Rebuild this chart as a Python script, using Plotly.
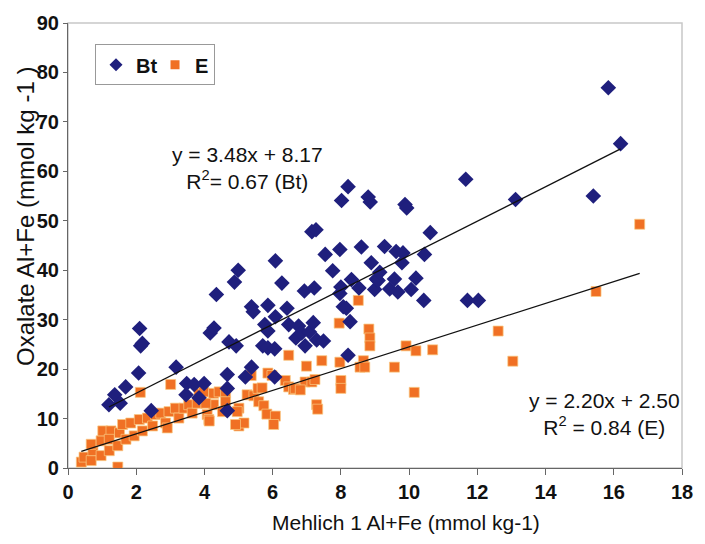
import plotly.graph_objects as go

# ---------------- data ----------------
bt_x = [1.20, 1.37, 1.53, 1.69, 2.07, 2.10, 2.13, 2.18, 2.44, 3.17, 3.46, 3.48, 3.70, 3.84, 3.99,
        4.17, 4.28, 4.35, 4.67, 4.67, 4.67, 4.72, 4.88, 4.93, 4.99, 5.20, 5.38, 5.38, 5.43, 5.71,
        5.77, 5.86, 5.86, 5.86, 6.06, 6.06, 6.08, 6.08, 6.27, 6.42, 6.47, 6.76, 6.68, 6.85, 6.93,
        6.95, 7.08, 7.15, 7.19, 7.22, 7.27, 7.29, 7.49, 7.54, 7.76, 7.97, 7.97, 8.00, 8.02, 8.07,
        8.16, 8.21, 8.21, 8.27, 8.31, 8.53, 8.60, 8.80, 8.86, 8.89, 8.99, 9.04, 9.09, 9.14, 9.28,
        9.43, 9.57, 9.62, 9.67, 9.82, 9.79, 9.88, 9.93, 10.06, 10.20, 10.43, 10.45, 10.62, 11.66,
        11.71, 12.03, 13.12, 15.40, 15.84, 16.20]
bt_y = [12.8, 14.8, 13.1, 16.4, 19.2, 28.2, 24.7, 25.2, 11.6, 20.4, 14.8, 17.1, 16.9, 14.2, 17.1,
        27.3, 28.3, 35.1, 18.9, 16.1, 11.6, 25.5, 37.6, 24.7, 40.0, 18.4, 32.6, 20.4, 31.6, 24.7,
        29.0, 32.9, 27.7, 24.3, 24.1, 18.4, 41.9, 30.6, 37.4, 32.3, 29.0, 28.7, 26.3, 27.3, 35.8,
        24.7, 27.5, 47.8, 29.4, 36.4, 48.2, 25.9, 25.7, 43.2, 39.9, 44.2, 35.3, 36.6, 54.1, 32.6,
        32.3, 56.9, 22.8, 29.6, 38.1, 36.4, 44.7, 54.8, 53.8, 41.5, 36.1, 38.2, 37.9, 39.6, 44.8,
        36.2, 38.2, 43.8, 35.6, 43.5, 41.5, 53.3, 52.6, 36.1, 38.4, 33.9, 43.2, 47.6, 58.4,
        33.9, 33.9, 54.3, 55.0, 76.9, 65.6]

e_x = [0.39, 0.47, 0.68, 0.73, 0.68, 0.97, 1.02, 0.97, 1.21, 1.26, 1.21, 1.46, 1.51, 1.60, 1.70,
       1.84, 1.94, 2.09, 2.18, 2.33, 2.48, 2.57, 2.72, 2.86, 2.91, 2.96, 3.15, 3.25, 3.40, 3.54,
       3.64, 3.84, 3.79, 3.98, 4.08, 4.13, 4.27, 4.27, 2.12, 3.01, 1.46, 4.43, 4.62, 4.04, 4.62,
       4.53, 4.14, 5.25, 5.45, 5.59, 5.74, 5.01, 4.96, 5.83, 6.08, 6.03, 5.01, 5.16, 4.91, 5.86,
       5.98, 5.37, 5.57, 5.69, 6.37, 6.47, 6.61, 6.66, 6.95, 7.15, 7.24, 6.81, 6.47, 6.99, 7.44,
       7.97, 8.00, 8.00, 7.29, 7.32, 7.95, 8.51, 8.82, 8.85, 8.85, 8.66, 8.56, 8.70, 9.57, 9.91,
       10.20, 10.69, 10.15, 12.61, 13.04, 15.48, 16.76]
e_y = [1.2, 2.2, 1.5, 3.5, 4.8, 5.5, 7.5, 2.5, 3.5, 7.5, 5.8, 4.5, 7.1, 8.8, 5.8,
       9.1, 6.5, 9.8, 7.5, 10.1, 8.5, 10.8, 11.1, 9.1, 8.1, 11.4, 12.1, 10.1, 12.1, 12.8,
       11.1, 15.1, 13.1, 15.4, 10.8, 9.8, 15.1, 12.8, 15.3, 16.9, 0.2, 15.4, 15.3, 13.1, 13.4,
       11.4, 9.5, 14.8, 14.6, 13.4, 12.6, 12.1, 11.4, 10.9, 10.5, 8.8, 8.5, 9.1, 8.8, 19.2,
       18.7, 18.7, 16.1, 16.2, 17.7, 16.4, 15.9, 16.1, 17.4, 17.4, 17.9, 15.8, 22.8, 20.6, 21.7,
       21.4, 17.7, 16.1, 12.8, 11.9, 29.3, 33.9, 28.1, 26.3, 24.7, 21.7, 20.4, 20.4, 20.4, 24.7,
       23.7, 23.9, 15.3, 27.7, 21.6, 35.7, 49.3]

# regression coefficients shown on the chart
bt_slope, bt_icpt = 3.48, 8.17
e_slope, e_icpt = 2.20, 2.50

x_ticks = [0, 2, 4, 6, 8, 10, 12, 14, 16, 18]
y_ticks = [0, 10, 20, 30, 40, 50, 60, 70, 80, 90]

# ---------------- styling ----------------
FONT = "Liberation Sans, Arial, sans-serif"
NAVY = "#1f1f7d"
ORANGE = "#f07024"

bt_lx = [min(bt_x), max(bt_x)]
bt_ly = [bt_slope * v + bt_icpt for v in bt_lx]
e_lx = [min(e_x), max(e_x)]
e_ly = [e_slope * v + e_icpt for v in e_lx]

fig = go.Figure()
fig.add_trace(go.Scatter(x=e_x, y=e_y, mode="markers", name="E", showlegend=False,
                         marker=dict(symbol="square", size=10, color=ORANGE,
                                     line=dict(color="rgba(250,200,130,0.9)", width=0.8))))
fig.add_trace(go.Scatter(x=bt_x, y=bt_y, mode="markers", name="Bt", showlegend=False,
                         marker=dict(symbol="diamond", size=12, color=NAVY,
                                     line=dict(width=0))))
fig.add_trace(go.Scatter(x=bt_lx, y=bt_ly, mode="lines", showlegend=False,
                         line=dict(color="#111111", width=1.3), hoverinfo="skip"))
fig.add_trace(go.Scatter(x=e_lx, y=e_ly, mode="lines", showlegend=False,
                         line=dict(color="#111111", width=1.3), hoverinfo="skip"))
# legend entries (same symbols)
fig.add_trace(go.Scatter(x=[None], y=[None], mode="markers", name="Bt",
                         marker=dict(symbol="diamond", size=10, color=NAVY)))
fig.add_trace(go.Scatter(x=[None], y=[None], mode="markers", name="E",
                         marker=dict(symbol="square", size=9, color=ORANGE)))

axis_common = dict(showgrid=False, zeroline=False, showline=True, linecolor="#666666",
                   linewidth=1.2, ticks="outside", tickcolor="#666666",
                   tickfont=dict(family=FONT, size=20, color="#111111", weight="bold"))

fig.update_xaxes(range=[0, 18], tickvals=x_ticks, ticktext=[str(t) for t in x_ticks],
                 ticklen=6, **axis_common)
fig.update_yaxes(range=[0, 90], tickvals=y_ticks, ticktext=[str(t) for t in y_ticks],
                 ticklen=4, **axis_common)

fig.update_layout(
    width=705, height=544,
    margin=dict(l=68, r=19, t=14, b=76),
    plot_bgcolor="white", paper_bgcolor="white",
    font=dict(family=FONT, color="#111111"),
    legend=dict(orientation="h", x=0.044, y=0.952, xanchor="left", yanchor="top",
                bordercolor="#999999", borderwidth=1, bgcolor="white",
                font=dict(family=FONT, size=20, color="#111111", weight="bold"),
                itemwidth=30, entrywidth=14, tracegroupgap=0),
    shapes=[dict(type="rect", xref="paper", yref="paper", x0=0, y0=0, x1=1, y1=1,
                 line=dict(color="#c8c8c8", width=1.5), layer="below")],
    annotations=[
        dict(text="y = 3.48x + 8.17<br>R<sup>2</sup>= 0.67 (Bt)", x=5.27, y=60.6,
             xref="x", yref="y", showarrow=False, align="center",
             font=dict(family=FONT, size=21, color="#111111")),
        dict(text="y = 2.20x + 2.50<br>R<sup>2</sup> = 0.84 (E)", x=15.73, y=10.95,
             xref="x", yref="y", showarrow=False, align="center",
             font=dict(family=FONT, size=21, color="#111111")),
        dict(text="Mehlich 1 Al+Fe (mmol kg-1)", x=0.55, y=-0.123, xref="paper", yref="paper",
             showarrow=False, xanchor="center", yanchor="middle",
             font=dict(family=FONT, size=21, color="#111111")),
        dict(text="Oxalate Al+Fe (mmol kg -1 )", x=-0.070, y=0.564, xref="paper", yref="paper",
             showarrow=False, xanchor="center", yanchor="middle", textangle=-90,
             font=dict(family=FONT, size=24, color="#111111")),
    ],
)

fig.write_html("out.html")
